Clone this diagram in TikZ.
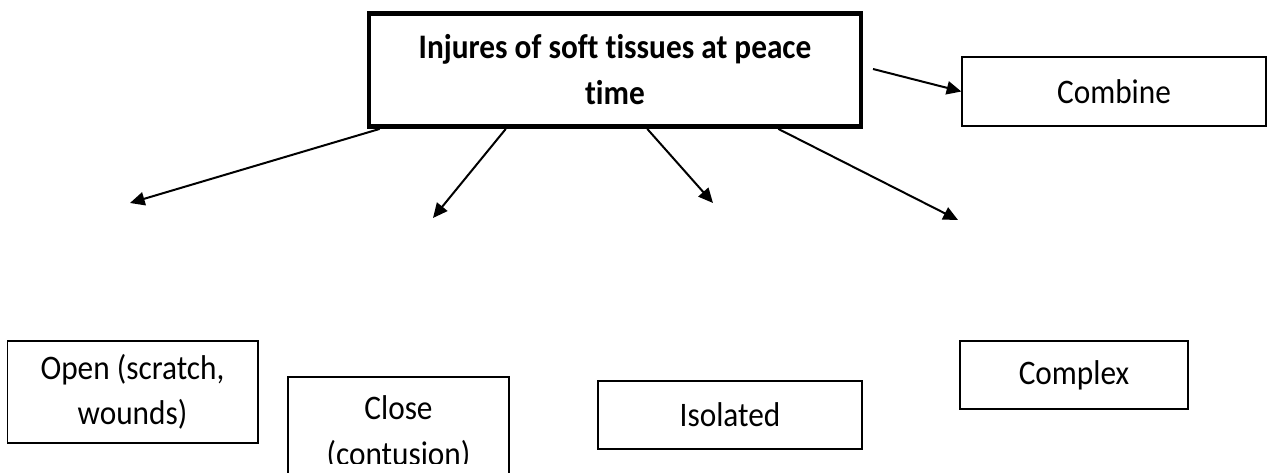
\documentclass[tikz,border=0pt]{standalone}
\usepackage{fontspec}
\setmainfont{Carlito}[FakeStretch=0.91,Ligatures=NoCommon]
\usetikzlibrary{arrows.meta,calc}
\begin{document}
\begin{tikzpicture}[x=0.75pt,y=-0.75pt,
  box/.style={draw=black,line width=1pt,fill=white,inner sep=0pt,align=center,
    font=\fontsize{25.8}{34}\selectfont},
  mainbox/.style={box,line width=3.4pt,font=\fontsize{25.8}{34.5}\selectfont\bfseries},
  arr/.style={line width=1.5pt,-{Triangle[length=11pt,width=10pt]}}]
\useasboundingbox (0,0) rectangle (1278,473);
\fill[white] (0,0) rectangle (1278,473);

\node[mainbox,minimum width=369pt,minimum height=85pt] (top) at (615,70)
  {Injures of soft tissues at peace\\time};
\node[box,minimum width=228pt,minimum height=51.75pt] (combine) at (1114,91.5) {Combine};
\node[box,minimum width=188pt,minimum height=76.5pt] (open) at (132.5,392)
  {Open (scratch,\\wounds)};
\node[box,minimum width=165.75pt,minimum height=84.75pt] (close) at (398.5,433.5) {};
\begin{scope}
  \clip (close.north west) rectangle (520,464);
  \node[align=center,inner sep=0pt,font=\fontsize{25.8}{34}\selectfont] (closetext)
    at (398.5,433) {Close\\(contusion)};
\end{scope}
\node[box,minimum width=198pt,minimum height=51pt] (isolated) at (730,415) {Isolated};
\node[box,minimum width=171pt,minimum height=51pt] (complex) at (1074,375) {Complex};

\coordinate (sOpen) at ($(top.south west)!0.026!(top.south east)$);
\coordinate (sClose) at ($(top.south west)!0.28!(top.south east)$);
\coordinate (sIso) at ($(top.south west)!0.565!(top.south east)$);
\coordinate (sComp) at ($(top.south west)!0.829!(top.south east)$);
\coordinate (sComb) at (873,69);
\coordinate (tOpen) at (130,203);
\coordinate (tClose) at (433,218);
\coordinate (tIso) at (713,203);
\coordinate (tComp) at (958,220);

\draw[arr] (sOpen) -- (tOpen);
\draw[arr] (sClose) -- (tClose);
\draw[arr] (sIso) -- (tIso);
\draw[arr] (sComp) -- (tComp);
\draw[arr] (sComb) -- (combine.west);
\end{tikzpicture}
\end{document}
